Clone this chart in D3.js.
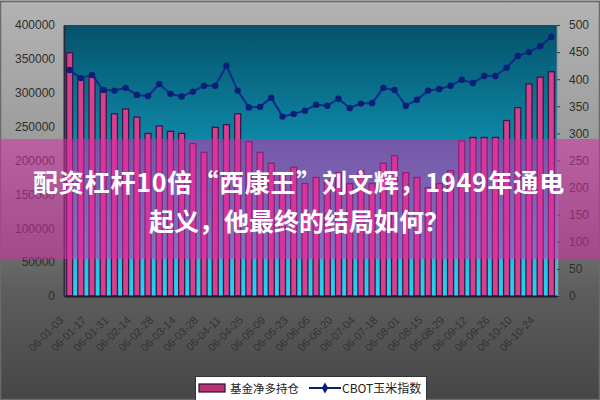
<!DOCTYPE html>
<html>
<head>
<meta charset="utf-8">
<script src="https://cdn.jsdelivr.net/npm/d3@7"></script>
<style>
html,body{margin:0;padding:0;background:#888;}
svg{display:block;}
</style>
</head>
<body>
<svg id="chart" width="600" height="400"></svg>
<script>
const categories = ["06-01-03","06-01-10","06-01-17","06-01-24","06-01-31","06-02-07","06-02-14","06-02-21","06-02-28","06-03-07","06-03-14","06-03-21","06-03-28","06-04-04","06-04-11","06-04-18","06-04-25","06-05-02","06-05-09","06-05-16","06-05-23","06-05-30","06-06-06","06-06-13","06-06-20","06-06-27","06-07-04","06-07-11","06-07-18","06-07-25","06-08-01","06-08-08","06-08-15","06-08-22","06-08-29","06-09-05","06-09-12","06-09-19","06-09-26","06-10-03","06-10-10","06-10-17","06-10-24","06-10-31"];
const fundNetLong = [359000,323000,323000,307000,269000,276000,264000,240000,251000,243000,240000,225000,212000,249000,253000,269000,228000,212000,196000,181000,190000,166000,175000,171000,182000,166000,185000,166000,196000,207000,182000,175000,160000,166000,185000,229000,234000,234000,234000,259000,278000,313000,323000,331000];
const cornIndex = [417,402,408,380,379,384,371,369,391,373,368,377,388,388,425,379,348,349,366,331,336,342,353,351,364,347,355,356,384,380,351,362,379,382,388,399,393,406,406,421,443,450,461,478];
const leftTicks = [0,50000,100000,150000,200000,250000,300000,350000,400000];
const rightTicks = [0,50,100,150,200,250,300,350,400,450,500];
const seriesNames = ["基金净多持仓","CBOT玉米指数"];
const titleLines = ["配资杠杆10倍“西康王”刘文辉，1949年通电","起义，他最终的结局如何？"];

const svg = d3.select("#chart");
const W = 600, H = 400;
const m = {left:64, right:557, top:25, bottom:296};
const defs = svg.append("defs");

const bg = defs.append("linearGradient").attr("id","bgGrad").attr("x1",0).attr("y1",0).attr("x2",0).attr("y2",1);
bg.append("stop").attr("offset","0%").attr("stop-color","#b3b3b3");
bg.append("stop").attr("offset","35%").attr("stop-color","#9c9c9c");
bg.append("stop").attr("offset","72%").attr("stop-color","#5e5e5e");
bg.append("stop").attr("offset","100%").attr("stop-color","#464646");

const pg = defs.append("linearGradient").attr("id","plotGrad").attr("x1",0).attr("y1",0).attr("x2",0).attr("y2",1);
pg.append("stop").attr("offset","0%").attr("stop-color","#055269");
pg.append("stop").attr("offset","40%").attr("stop-color","#0d84a3");
pg.append("stop").attr("offset","100%").attr("stop-color","#28d2f2");

svg.append("rect").attr("width",W).attr("height",H).attr("fill","url(#bgGrad)");
svg.append("rect").attr("x",0.5).attr("y",1.5).attr("width",W-1).attr("height",H-2).attr("fill","none").attr("stroke","#6a6a6a").attr("stroke-width",1.5);

const x = d3.scaleBand().domain(categories).range([m.left, m.right]).paddingInner(0).paddingOuter(0);
const yL = d3.scaleLinear().domain([0,400000]).range([m.bottom, m.top]);
const yR = d3.scaleLinear().domain([0,500]).range([m.bottom, m.top]);

svg.append("rect").attr("x",m.left).attr("y",m.top).attr("width",m.right-m.left).attr("height",m.bottom-m.top).attr("fill","url(#plotGrad)");

// bars
const bw = 6;
svg.append("g").selectAll("rect").data(fundNetLong).join("rect")
  .attr("x",(d,i)=>x(categories[i]) + x.bandwidth()/2 - bw/2)
  .attr("y",d=>yL(d))
  .attr("width",bw)
  .attr("height",d=>m.bottom - yL(d))
  .attr("fill","#d8408e")
  .attr("stroke","#3a1848")
  .attr("stroke-width",1.3);

// line
const line = d3.line().x((d,i)=>x(categories[i]) + x.bandwidth()/2).y(d=>yR(d));
svg.append("path").datum(cornIndex).attr("d",line).attr("fill","none").attr("stroke","#0c2a86").attr("stroke-width",2);
svg.append("g").selectAll("circle").data(cornIndex).join("circle")
  .attr("cx",(d,i)=>x(categories[i]) + x.bandwidth()/2)
  .attr("cy",d=>yR(d)).attr("r",3.2).attr("fill","#0c1f78");

// axes
const gL = svg.append("g").attr("transform",`translate(${m.left},0)`)
  .call(d3.axisLeft(yL).tickValues(leftTicks).tickSize(0).tickPadding(9).tickFormat(d3.format("d")));
gL.select(".domain").attr("stroke","#2a2a3a").attr("stroke-width",2);
gL.selectAll("text").attr("fill","#2e2e2e").style("font-family","Liberation Sans, Arial, sans-serif").style("font-size","12px");

const gR = svg.append("g").attr("transform",`translate(${m.right},0)`)
  .call(d3.axisRight(yR).tickValues(rightTicks).tickSize(3).tickPadding(9));
gR.select(".domain").attr("stroke","#9a9aa8").attr("stroke-width",1.5);
gR.selectAll("line").attr("stroke","#3a3a4a");
gR.selectAll("text").attr("fill","#2e2e2e").style("font-family","Liberation Sans, Arial, sans-serif").style("font-size","12px");

const gB = svg.append("g").attr("transform",`translate(0,${m.bottom})`)
  .call(d3.axisBottom(x).tickSize(0).tickValues(categories.filter((d,i)=>i%2===0)));
gB.select(".domain").attr("stroke","#1c1c2c").attr("stroke-width",2);
gB.selectAll("text")
  .attr("fill","#333333")
  .style("font-family","Liberation Sans, Arial, sans-serif").style("font-size","11px")
  .attr("text-anchor","end")
  .attr("dy","0.35em")
  .attr("transform","translate(-10,20) rotate(-45)");

// legend
const lg = svg.append("g");
lg.append("rect").attr("x",195.5).attr("y",376.5).attr("width",231).attr("height",30).attr("fill","#ffffff").attr("stroke","#333").attr("stroke-width",1);
lg.append("rect").attr("x",199).attr("y",384).attr("width",26).attr("height",8).attr("fill","#b83274").attr("stroke","#2a1030").attr("stroke-width",1.2);
lg.append("text").attr("x",230).attr("y",392.5).text(seriesNames[0]).attr("fill","#222").style("font-family","Noto Sans CJK SC").style("font-size","11.5px");
lg.append("line").attr("x1",309).attr("x2",341).attr("y1",388).attr("y2",388).attr("stroke","#0c1f78").attr("stroke-width",2);
lg.append("path").attr("d",d3.symbol(d3.symbolDiamond,36)()).attr("transform","translate(325,388)").attr("fill","#0c1f78");
lg.append("text").attr("x",342).attr("y",392.5).text(seriesNames[1]).attr("fill","#222").style("font-family","Noto Sans CJK SC").style("font-size","12px");

// title band overlay
svg.append("rect").attr("x",0).attr("y",139).attr("width",W).attr("height",120).attr("fill","rgba(215,45,168,0.52)");
const tg = svg.append("g").style("font-family","Noto Sans CJK SC").style("font-weight","bold").style("font-size","25px").attr("fill","#ffffff").attr("text-anchor","middle");
tg.append("text").attr("x",299).attr("y",192).style("letter-spacing","0.8px").text(titleLines[0]);
tg.append("text").attr("x",299).attr("y",231).text(titleLines[1]);
</script>
</body>
</html>
